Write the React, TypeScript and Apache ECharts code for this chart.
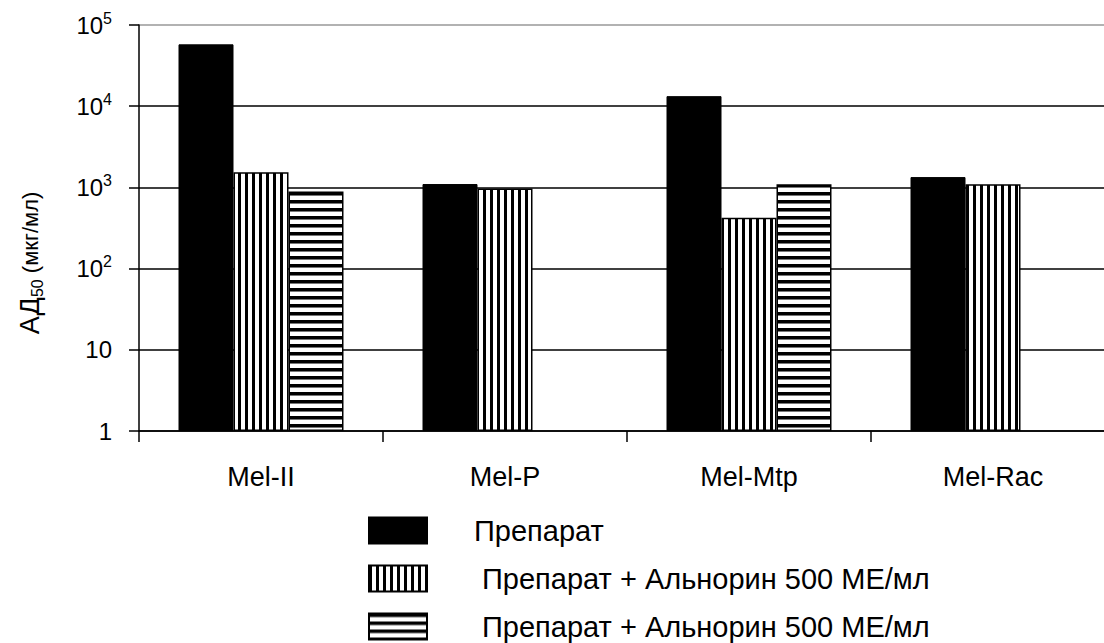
import React, { useEffect, useRef } from 'react';
import * as echarts from 'echarts';

const categories = ['Mel-II', 'Mel-P', 'Mel-Mtp', 'Mel-Rac'];
const preparat = [57800, 1100, 13300, 1340];
const alnorinVert = [1540, 970, 423, 1090];
const alnorinHoriz: (number | null)[] = [890, null, 1090, null];
const seriesKeys = ['s1', 's2', 's3'];
const legendLabels = ['Препарат', 'Препарат + Альнорин 500 МЕ/мл', 'Препарат + Альнорин 500 МЕ/мл'];

const FONT = '"Liberation Sans", Arial, sans-serif';
const CHART_H = 700;

function makePattern(kind: 'v' | 'h') {
  const c = document.createElement('canvas');
  c.width = kind === 'v' ? 7 : 8;
  c.height = 8;
  const ctx = c.getContext('2d')!;
  ctx.fillStyle = '#fff';
  ctx.fillRect(0, 0, c.width, c.height);
  ctx.fillStyle = '#000';
  if (kind === 'v') {
    ctx.fillRect(0, 0, 3, c.height);
  } else {
    ctx.fillRect(0, 0, c.width, 3);
    ctx.fillStyle = '#777';
    ctx.fillRect(0, 3, c.width, 1);
  }
  return { image: c.toDataURL(), repeat: 'repeat', imageWidth: c.width, imageHeight: c.height } as any;
}

export default function App() {
  const ref = useRef<HTMLDivElement>(null);
  useEffect(() => {
    if (!ref.current) return;
    const chart = echarts.init(ref.current, null, { renderer: 'svg' });
    const vPat = makePattern('v');
    const hPat = makePattern('h');
    const supLabel = (v: number) => {
      if (v === 1) return '{b|1}';
      if (v === 10) return '{b|10}';
      const e = Math.round(Math.log10(v));
      return '{b|10}{s|' + e + '}';
    };
    chart.setOption({
      animation: false,
      backgroundColor: '#fff',
      grid: { left: 139, top: 25, bottom: CHART_H - 431, right: 5, containLabel: false },
      xAxis: {
        type: 'category',
        data: categories,
        axisLine: { lineStyle: { color: '#000', width: 1.5 } },
        axisTick: { show: true, length: 11, lineStyle: { color: '#000', width: 1.5 } },
        axisLabel: { color: '#000', fontFamily: FONT, fontSize: 27, margin: 32 },
      },
      yAxis: {
        type: 'log',
        logBase: 10,
        min: 1,
        max: 100000,
        axisLine: { show: true, lineStyle: { color: '#000', width: 1.5 } },
        axisTick: { show: true, length: 10, lineStyle: { color: '#000', width: 1.5 } },
        axisLabel: {
          color: '#000',
          margin: 27,
          formatter: (v: number) => supLabel(v),
          rich: {
            b: { fontFamily: FONT, fontSize: 24, color: '#000', lineHeight: 30 },
            s: { fontFamily: FONT, fontSize: 16, color: '#000', lineHeight: 16, verticalAlign: 'top', padding: [0, 0, 12, 0] },
          },
        },
        splitLine: {
          show: true,
          lineStyle: { color: ['#000', '#000', '#000', '#000', '#000', '#999'], width: 1.5 },
        },
      },
      legend: {
        orient: 'vertical',
        left: 368,
        top: 516,
        padding: 0,
        itemWidth: 58,
        itemHeight: 26,
        itemGap: 19,
        icon: 'rect',
        selectedMode: false,
        data: seriesKeys,
        formatter: (name: string) => {
          const i = seriesKeys.indexOf(name);
          return (i === 0 ? '{g| }' : '{g2| }') + '{t|' + legendLabels[i] + '}';
        },
        textStyle: {
          rich: {
            g: { width: 42, lineHeight: 26, fontSize: 10 },
            g2: { width: 50, lineHeight: 26, fontSize: 10 },
            t: { fontFamily: FONT, fontSize: 29, color: '#000', lineHeight: 26 },
          },
        },
      },
      graphic: [
        {
          type: 'text',
          x: 30,
          y: 263,
          rotation: Math.PI / 2,
          style: {
            text: '{a|АД}{s|50}{b| (мкг/мл)}',
            align: 'center',
            verticalAlign: 'middle',
            rich: {
              a: { fontFamily: FONT, fontSize: 27, fill: '#000', lineHeight: 30 },
              s: { fontFamily: FONT, fontSize: 16, fill: '#000', lineHeight: 16, verticalAlign: 'bottom' },
              b: { fontFamily: FONT, fontSize: 22, fill: '#000', lineHeight: 30 },
            },
          },
        },
      ],
      series: [
        {
          name: seriesKeys[0],
          type: 'bar',
          data: preparat,
          barWidth: 55,
          barGap: '0%',
          itemStyle: { color: '#000', borderColor: '#000', borderWidth: 1 },
        },
        {
          name: seriesKeys[1],
          type: 'bar',
          data: alnorinVert,
          barWidth: 55,
          barGap: '0%',
          itemStyle: { color: vPat, borderColor: '#000', borderWidth: 1.5 },
        },
        {
          name: seriesKeys[2],
          type: 'bar',
          data: alnorinHoriz,
          barWidth: 55,
          barGap: '0%',
          itemStyle: { color: hPat, borderColor: '#000', borderWidth: 1.5 },
        },
      ],
    });
    return () => chart.dispose();
  }, []);
  return (
    <div style={{ position: 'absolute', left: 0, top: 0, width: 1104, height: 643, overflow: 'hidden', background: '#fff' }}>
      <div ref={ref} style={{ width: 1120, height: CHART_H }} />
    </div>
  );
}
